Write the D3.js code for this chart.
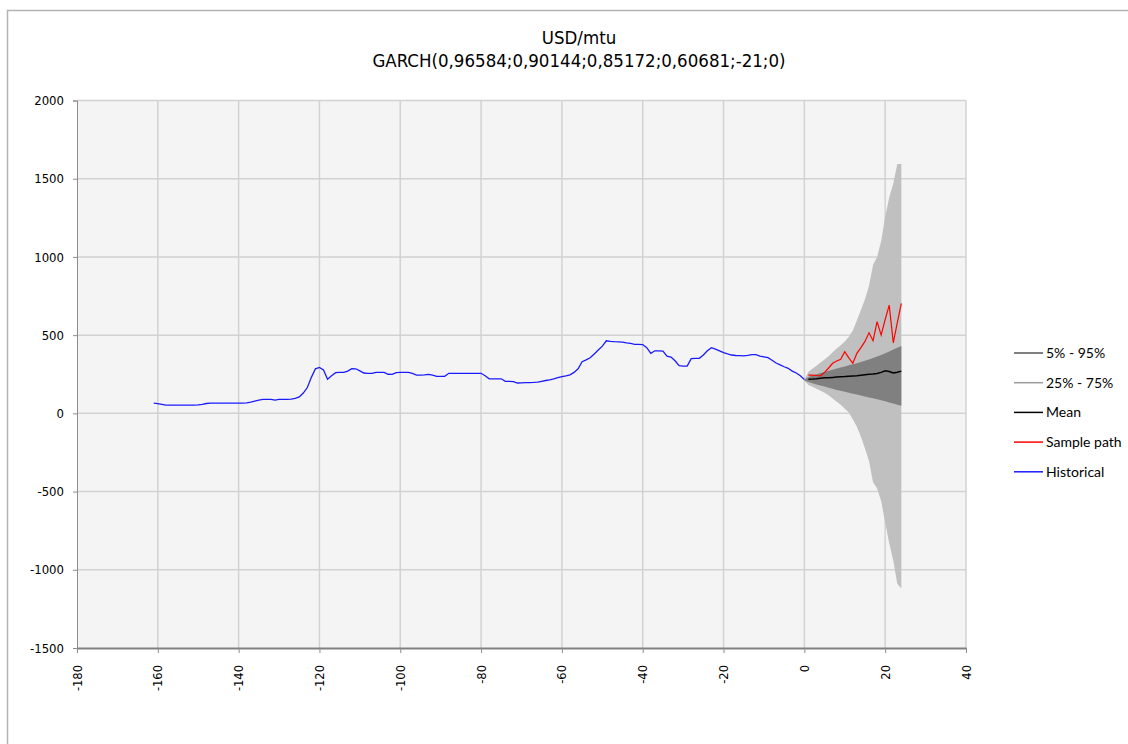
<!DOCTYPE html>
<html>
<head>
<meta charset="utf-8">
<script src="https://d3js.org/d3.v7.min.js"></script>
<style>
  body { margin: 0; background: #fff; }
  svg { display: block; }
</style>
</head>
<body>
<svg id="chart"></svg>
<script>
// historical series, x = -161 .. 0
var histStart = -161;
var historical = [66, 62, 58, 53, 53, 53, 53, 53, 53, 53, 53, 54, 58, 63, 66, 66, 66, 66, 66, 66,
    66, 66, 66, 67, 72, 78, 84, 89, 89, 89, 85, 89, 90, 90, 91, 96, 105, 130, 165, 230,
    285, 294, 278, 218, 240, 260, 262, 262, 270, 286, 285, 272, 258, 256, 256, 262, 262, 262, 250, 249,
    260, 262, 262, 262, 255, 244, 244, 246, 249, 244, 236, 236, 237, 256, 256, 256, 256, 256, 256, 256,
    256, 256, 240, 221, 221, 221, 221, 205, 204, 203, 194, 195, 196, 197, 198, 200, 205, 210, 214, 220,
    228, 235, 240, 246, 262, 285, 330, 342, 355, 380, 405, 430, 464, 460, 458, 457, 455, 450, 447, 441,
    441, 440, 420, 384, 400, 400, 398, 366, 360, 336, 305, 302, 302, 350, 352, 352, 373, 400, 420, 410,
    400, 388, 380, 373, 370, 369, 368, 370, 375, 375, 366, 361, 356, 340, 322, 310, 298, 288, 270, 258,
    240, 217];

// forecast horizon, x = 0 .. 24
var horizon = d3.range(0, 25);
var outerHigh = [215, 266, 285, 305, 325, 345, 365, 390, 415, 435, 460, 490, 530, 596, 660, 730, 815, 950, 1000, 1100, 1257, 1380, 1470, 1594, 1594];
var outerLow = [210, 181, 170, 158, 145, 132, 115, 95, 75, 55, 30, 5, -40, -85, -150, -225, -305, -440, -480, -560, -700, -830, -940, -1090, -1120];
var innerHigh = [215, 232, 242, 250, 258, 265, 272, 279, 286, 293, 300, 307, 314, 321, 329, 337, 345, 354, 363, 373, 384, 395, 408, 420, 430];
var innerLow = [210, 200, 192, 185, 178, 171, 164, 157, 150, 144, 138, 132, 126, 120, 114, 108, 102, 96, 90, 84, 77, 70, 63, 55, 48];
var meanPath = [217, 218, 219, 221, 224, 227, 228, 230, 232, 234, 235, 237, 239, 241, 244, 247, 250, 252, 255, 262, 272, 268, 258, 263, 270];
var samplePath = [245, 245, 245, 242, 240, 262, 290, 320, 335, 345, 394, 355, 320, 384, 420, 460, 515, 464, 586, 500, 600, 692, 451, 580, 703];

var xTicks = d3.range(-180, 41, 20);
var yTicks = d3.range(-1500, 2001, 500);

var legendItems = ["5% - 95%", "25% - 75%", "Mean", "Sample path", "Historical"];
var legendColors = ["#555555", "#9a9a9a", "#000000", "#ff0000", "#1a1aff"];

var titleLines = ["USD/mtu", "GARCH(0,96584;0,90144;0,85172;0,60681;-21;0)"];

var W = 1128, H = 744;
var plot = { left: 77, right: 966, top: 100.5, bottom: 648 };
var narrow = "'DejaVu Sans Condensed', 'Liberation Sans Narrow', sans-serif";

var svg = d3.select("#chart").attr("width", W).attr("height", H);

// chart frame
svg.append("rect")
    .attr("x", 7.5).attr("y", 10.5)
    .attr("width", W + 20).attr("height", H + 20)
    .attr("fill", "#fff")
    .attr("stroke", "#b4b4b4")
    .attr("stroke-width", 1.5);

var x = d3.scaleLinear().domain([-180, 40]).range([plot.left, plot.right]);
var y = d3.scaleLinear().domain([-1500, 2000]).range([plot.bottom, plot.top]);

svg.append("rect")
    .attr("x", plot.left).attr("y", plot.top)
    .attr("width", plot.right - plot.left).attr("height", plot.bottom - plot.top)
    .attr("fill", "#f4f4f4");

// grid
svg.append("g").selectAll("line")
    .data(xTicks.filter(d => d > -180))
    .join("line")
    .attr("x1", d => x(d)).attr("x2", d => x(d))
    .attr("y1", plot.top).attr("y2", plot.bottom)
    .attr("stroke", "#d2d2d2").attr("stroke-width", 1.5);

svg.append("g").selectAll("line")
    .data(yTicks.filter(d => d > -1500))
    .join("line")
    .attr("x1", plot.left).attr("x2", plot.right)
    .attr("y1", d => y(d)).attr("y2", d => y(d))
    .attr("stroke", "#d2d2d2").attr("stroke-width", 1.5);

// fan bands
var bandOuter = d3.area()
    .x((d, i) => x(horizon[i]))
    .y0((d, i) => y(outerLow[i]))
    .y1((d, i) => y(outerHigh[i]));
var bandInner = d3.area()
    .x((d, i) => x(horizon[i]))
    .y0((d, i) => y(innerLow[i]))
    .y1((d, i) => y(innerHigh[i]));

svg.append("path").datum(horizon).attr("d", bandOuter).attr("fill", "#c0c0c0");
svg.append("path").datum(horizon).attr("d", bandInner).attr("fill", "#808080");

var line = d3.line()
    .x(d => x(d[0]))
    .y(d => y(d[1]));

svg.append("path")
    .datum(historical.map((v, i) => [histStart + i, v]))
    .attr("d", line)
    .attr("fill", "none")
    .attr("stroke", "#1a1aff")
    .attr("stroke-width", 1.3);

svg.append("path")
    .datum(samplePath.slice(1).map((v, i) => [horizon[i + 1], v]))
    .attr("d", line)
    .attr("fill", "none")
    .attr("stroke", "#ff0000")
    .attr("stroke-width", 1.2);

svg.append("path")
    .datum(meanPath.slice(1).map((v, i) => [horizon[i + 1], v]))
    .attr("d", line)
    .attr("fill", "none")
    .attr("stroke", "#000")
    .attr("stroke-width", 1.5);

// axes
var yAxis = svg.append("g").attr("transform", "translate(" + plot.left + ",0)")
    .call(d3.axisLeft(y).tickValues(yTicks).tickFormat(d => String(d)).tickSize(4).tickPadding(9));
yAxis.select(".domain").attr("stroke", "#8c8c8c");
yAxis.selectAll(".tick line").attr("stroke", "#8c8c8c");
yAxis.selectAll("text")
    .style("font-family", narrow)
    .style("font-size", "13px")
    .attr("fill", "#000");

var xAxis = svg.append("g").attr("transform", "translate(0," + plot.bottom + ")")
    .call(d3.axisBottom(x).tickValues(xTicks).tickFormat(d => String(d)).tickSize(5).tickSizeOuter(0));
xAxis.select(".domain").attr("stroke", "#808080").attr("stroke-width", 2);
xAxis.selectAll(".tick line").attr("stroke", "#8c8c8c");
xAxis.selectAll("text")
    .attr("transform", "rotate(-90)")
    .attr("x", -17).attr("y", 0).attr("dy", "0.35em")
    .style("text-anchor", "end")
    .style("font-family", "'DejaVu Sans', sans-serif")
    .style("font-size", "11.5px")
    .attr("fill", "#000");

// title
svg.append("g").selectAll("text")
    .data(titleLines)
    .join("text")
    .attr("x", 579)
    .attr("y", (d, i) => 44 + i * 23)
    .attr("text-anchor", "middle")
    .style("font-family", narrow)
    .style("font-size", "18.5px")
    .text(d => d);

// legend
var legend = svg.append("g").selectAll("g")
    .data(legendItems)
    .join("g")
    .attr("transform", (d, i) => "translate(1014," + (353 + i * 29.7) + ")");
legend.append("line")
    .attr("x1", 0).attr("x2", 29)
    .attr("stroke", (d, i) => legendColors[i])
    .attr("stroke-width", 1.5);
legend.append("text")
    .attr("x", 32).attr("dy", "0.35em")
    .style("font-family", "Lato, sans-serif")
    .style("font-size", "14px")
    .text(d => d);
</script>
</body>
</html>
